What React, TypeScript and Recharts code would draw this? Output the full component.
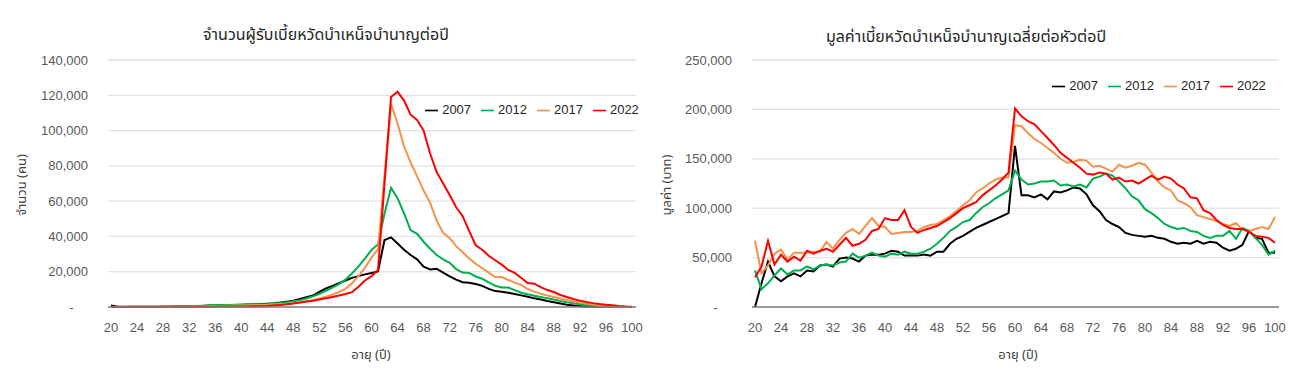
import React from 'react';
import { LineChart, Line, XAxis, YAxis, CartesianGrid, Legend } from 'recharts';

const ages = [
  20, 21, 22, 23, 24, 25, 26, 27, 28, 29, 30, 31, 32, 33, 34, 35, 36, 37, 38, 39,
  40, 41, 42, 43, 44, 45, 46, 47, 48, 49, 50, 51, 52, 53, 54, 55, 56, 57, 58, 59,
  60, 61, 62, 63, 64, 65, 66, 67, 68, 69, 70, 71, 72, 73, 74, 75, 76, 77, 78, 79,
  80, 81, 82, 83, 84, 85, 86, 87, 88, 89, 90, 91, 92, 93, 94, 95, 96, 97, 98, 99, 100,
];

// Left chart: number of recipients (thousands of persons)
const count2007 = [
  0.8, 0.2, 0.1, 0.1, 0.1, 0.1, 0.1, 0.1, 0.2, 0.2, 0.3, 0.3, 0.4, 0.5, 0.6, 0.8, 0.9, 1.0, 1.1, 1.2,
  1.3, 1.4, 1.5, 1.7, 1.9, 2.1, 2.5, 3.0, 3.5, 4.5, 5.5, 6.5, 8.5, 10.5, 12.0, 13.5, 15.0, 16.5, 17.5, 18.5,
  19.3, 20.2, 38.0, 39.5, 36.0, 32.5, 29.5, 27.0, 22.8, 21.3, 21.7, 19.5, 17.3, 15.5, 14.0, 13.8, 13.0, 12.0, 10.3, 9.0,
  8.7, 8.1, 7.4, 6.6, 5.8, 4.9, 4.2, 3.4, 2.7, 2.0, 1.3, 0.9, 0.5, 0.3, 0.2, 0.1, 0.05, 0, 0, 0, 0,
];
const count2012 = [
  0, 0.05, 0.05, 0.1, 0.1, 0.1, 0.1, 0.15, 0.2, 0.2, 0.3, 0.4, 0.5, 0.6, 0.7, 0.85, 1.0, 1.1, 1.2, 1.25,
  1.3, 1.4, 1.5, 1.6, 1.7, 2.0, 2.3, 2.7, 3.2, 3.9, 4.8, 6.0, 7.5, 9.2, 11.0, 13.0, 15.5, 19.0, 23.0, 27.5,
  32.4, 35.6, 53.0, 67.6, 61.7, 53.0, 43.6, 41.5, 37.0, 33.0, 29.5, 27.0, 25.0, 21.5, 19.5, 19.3, 17.3, 16.0, 14.0, 12.0,
  11.1, 11.0, 9.6, 8.1, 7.2, 6.4, 5.7, 4.9, 4.2, 3.4, 2.7, 2.1, 1.5, 1.1, 0.7, 0.4, 0.2, 0.1, 0.05, 0, 0,
];
const count2017 = [
  0, 0.05, 0.05, 0.05, 0.1, 0.1, 0.1, 0.1, 0.15, 0.15, 0.2, 0.25, 0.3, 0.35, 0.4, 0.45, 0.5, 0.6, 0.7, 0.8,
  0.9, 1.0, 1.1, 1.2, 1.3, 1.5, 1.7, 1.9, 2.1, 2.6, 3.2, 3.9, 4.8, 5.8, 7.0, 8.5, 10.3, 13.5, 17.5, 22.3,
  28.0, 32.8, 75.0, 115.0, 104.0, 91.0, 82.0, 74.0, 66.0, 59.0, 49.0, 42.0, 39.0, 34.5, 31.0, 27.5, 24.5, 22.0, 19.5, 17.0,
  17.0, 15.3, 13.8, 12.5, 10.2, 8.7, 7.5, 6.5, 5.7, 4.8, 4.0, 3.2, 2.5, 1.9, 1.4, 1.0, 0.7, 0.4, 0.2, 0.1, 0,
];
const count2022 = [
  0, 0, 0, 0.05, 0.05, 0.05, 0.05, 0.05, 0.1, 0.1, 0.1, 0.1, 0.15, 0.15, 0.2, 0.2, 0.2, 0.25, 0.25, 0.3,
  0.3, 0.35, 0.4, 0.45, 0.5, 0.8, 1.1, 1.5, 2.0, 2.6, 3.1, 3.6, 4.2, 4.9, 5.7, 6.5, 7.4, 8.4, 11.5, 15.0,
  17.5, 21.0, 70.0, 119.0, 122.0, 117.0, 109.0, 106.0, 100.0, 87.0, 76.5, 70.0, 63.5, 56.5, 51.5, 43.0, 35.0, 32.5, 29.0, 26.5,
  24.0, 21.0, 19.3, 16.4, 13.6, 13.2, 11.3, 9.6, 8.5, 6.8, 5.7, 4.5, 3.6, 2.8, 2.2, 1.7, 1.3, 1.0, 0.6, 0.3, 0.1,
];

// Right chart: average value per head per year (thousands of baht)
const value2007 = [
  0, 24, 46, 31, 26, 31, 34, 31, 37, 36, 42, 43, 41, 49, 50, 49, 46, 52, 53, 53,
  54, 57, 56, 52, 52, 52, 53, 52, 56, 56, 64, 69, 72, 76, 80, 83, 86, 89, 92, 95,
  163, 113, 113, 111, 114, 109, 117, 116, 118, 121, 120, 114, 103, 97, 88, 84, 81, 75, 73, 72,
  71, 72, 70, 69, 66, 64, 65, 64, 67, 64, 66, 65, 60, 57, 59, 63, 77, 70, 69, 55, 55,
];
const value2012 = [
  37, 18, 24, 32, 39, 33, 37, 37, 41, 38, 42, 43, 42, 45, 46, 54, 50, 52, 55, 52,
  51, 54, 53, 56, 54, 54, 56, 59, 64, 70, 77, 81, 86, 88, 95, 101, 105, 110, 114, 118,
  138, 129, 124, 125, 127, 127, 128, 123, 124, 122, 124, 121, 130, 132, 135, 133, 127, 120, 112, 108,
  99, 95, 90, 84, 81, 79, 80, 77, 76, 72, 70, 72, 72, 77, 69, 80, 77, 70, 63, 53, 57,
];
const value2017 = [
  67, 34, 42, 54, 58, 48, 55, 55, 55, 56, 56, 66, 59, 68, 75, 79, 74, 82, 90, 82,
  81, 74, 75, 76, 76, 77, 81, 83, 84, 88, 92, 97, 103, 108, 116, 120, 125, 129, 131, 131,
  184, 183, 176, 170, 166, 161, 156, 150, 146, 147, 149, 148, 142, 143, 140, 137, 144, 141, 143, 146,
  144, 136, 127, 121, 118, 108, 105, 101, 93, 91, 89, 87, 84, 82, 85, 78, 77, 79, 81, 79, 91,
];
const value2022 = [
  30, 41, 67, 43, 53, 46, 51, 47, 57, 54, 57, 59, 56, 63, 70, 62, 64, 68, 77, 79,
  90, 88, 88, 98, 81, 75, 78, 80, 82, 86, 90, 95, 100, 103, 106, 113, 118, 123, 129, 136,
  201, 193, 188, 185, 178, 171, 164, 156, 151, 146, 141, 135, 134, 136, 135, 129, 131, 127, 128, 125,
  129, 133, 129, 132, 130, 124, 120, 111, 110, 98, 95, 88, 83, 80, 79, 79, 76, 72, 71, 70, 65,
];

const countTicks = [0, 20, 40, 60, 80, 100, 120, 140];
const valueTicks = [0, 50, 100, 150, 200, 250];
const seriesNames = ['2007', '2012', '2017', '2022'];
const seriesColors = ['#000000', '#00B050', '#F4924B', '#FF0000'];

const countData = ages.map((age, i) => ({
  age,
  s2007: count2007[i],
  s2012: count2012[i],
  s2017: count2017[i],
  s2022: count2022[i],
}));
const valueData = ages.map((age, i) => ({
  age,
  s2007: value2007[i],
  s2012: value2012[i],
  s2017: value2017[i],
  s2022: value2022[i],
}));

const FONT = "'Liberation Sans', Arial, sans-serif";
const THAI = "'Noto Sans Thai', 'Noto Sans Thai UI', Tahoma, 'Noto Sans', 'DejaVu Sans', sans-serif";

const fmtK = (v: number) => (v === 0 ? '-\u00A0\u00A0\u00A0\u00A0' : (v * 1000).toLocaleString('en-US'));

const keys = ['s2007', 's2012', 's2017', 's2022'];

function Panel(props: {
  data: any[];
  ticks: number[];
  domainMax: number;
  marginLeft: number;
  yWidth: number;
  marginRight: number;
  legendLeft: number;
  legendTop: number;
}) {
  const { data, ticks, domainMax, marginLeft, yWidth, marginRight, legendLeft, legendTop } = props;
  return (
    <LineChart
      width={650}
      height={378}
      data={data}
      margin={{ top: 60, right: marginRight, left: marginLeft, bottom: 41 }}
    >
      <CartesianGrid horizontal vertical={false} stroke="#e2e2e2" strokeWidth={1.3} />
      <XAxis
        dataKey="age"
        interval={3}
        height={30}
        tickSize={0}
        tickMargin={16}
        padding={{ left: 3, right: 4 }}
        axisLine={{ stroke: '#7f7f7f', strokeWidth: 1.3 }}
        tickLine={false}
        tick={{ fill: '#595959', fontSize: 13, fontFamily: FONT }}
      />
      <YAxis
        width={yWidth}
        domain={[0, domainMax]}
        ticks={ticks}
        tickSize={0}
        tickMargin={20}
        axisLine={false}
        tickLine={false}
        tickFormatter={fmtK}
        tick={{ fill: '#595959', fontSize: 13, fontFamily: FONT }}
        interval={0}
      />
      <Legend
        layout="horizontal"
        verticalAlign="middle"
        align="center"
        iconType="plainline"
        iconSize={13}
        wrapperStyle={{ top: legendTop, left: legendLeft, width: 260, fontFamily: FONT, fontSize: 13, whiteSpace: 'nowrap' }}
        formatter={(value: any) => <span style={{ color: '#262626' }}>{value}</span>}
      />
      {keys.map((k, i) => (
        <Line
          key={k}
          type="linear"
          dataKey={k}
          name={seriesNames[i]}
          stroke={seriesColors[i]}
          strokeWidth={2}
          dot={false}
          activeDot={false}
          isAnimationActive={false}
        />
      ))}
    </LineChart>
  );
}

const textBase: React.CSSProperties = {
  position: 'absolute',
  fontFamily: THAI,
  color: '#404040',
  whiteSpace: 'nowrap',
};

export default function App() {
  return (
    <div style={{ position: 'absolute', left: 0, top: 0, width: 1300, height: 378, background: '#fff' }}>
      <div style={{ position: 'absolute', left: 0, top: 0 }}>
        <Panel
          data={countData}
          ticks={countTicks}
          domainMax={140}
          marginLeft={30}
          yWidth={78}
          marginRight={14}
          legendLeft={407}
          legendTop={102}
        />
      </div>
      <div style={{ position: 'absolute', left: 650, top: 0 }}>
        <Panel
          data={valueData}
          ticks={valueTicks}
          domainMax={250}
          marginLeft={24}
          yWidth={78}
          marginRight={21}
          legendLeft={384}
          legendTop={78}
        />
      </div>
      {/* titles */}
      <div style={{ ...textBase, left: 326, top: 35, transform: 'translate(-50%, -50%)', fontSize: 16, color: '#262626' }}>
        จำนวนผู้รับเบี้ยหวัดบำเหน็จบำนาญต่อปี
      </div>
      <div style={{ ...textBase, left: 966, top: 37, transform: 'translate(-50%, -50%)', fontSize: 16, color: '#262626' }}>
        มูลค่าเบี้ยหวัดบำเหน็จบำนาญเฉลี่ยต่อหัวต่อปี
      </div>
      {/* y axis titles */}
      <div style={{ ...textBase, left: 22, top: 185, transform: 'translate(-50%, -50%) rotate(-90deg)', fontSize: 13 }}>
        จำนวน (คน)
      </div>
      <div style={{ ...textBase, left: 667, top: 185, transform: 'translate(-50%, -50%) rotate(-90deg)', fontSize: 13 }}>
        มูลค่า (บาท)
      </div>
      {/* x axis titles */}
      <div style={{ ...textBase, left: 371, top: 355, transform: 'translate(-50%, -50%)', fontSize: 13 }}>
        อายุ (ปี)
      </div>
      <div style={{ ...textBase, left: 1018, top: 355, transform: 'translate(-50%, -50%)', fontSize: 13 }}>
        อายุ (ปี)
      </div>
    </div>
  );
}
